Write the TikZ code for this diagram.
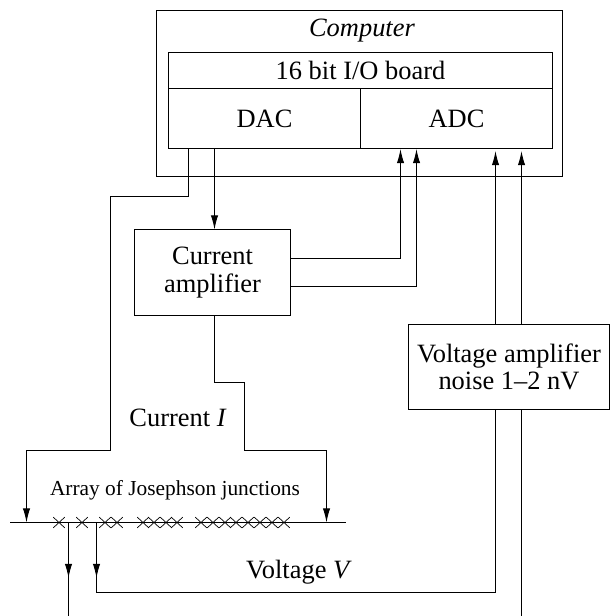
\documentclass[tikz,border=0pt]{standalone}
\usepackage{fontspec}
\setmainfont{Liberation Serif}
\usetikzlibrary{arrows.meta,shapes.misc}
\tikzset{
  box/.style   = {rectangle, draw, line width=0.75pt, outer sep=0, inner sep=0, align=center},
  et/.style    = {font=\fontsize{18.8}{19.5}\selectfont, align=center},
  etsm/.style  = {font=\fontsize{15.2}{16}\selectfont},
  wire/.style  = {line width=0.75pt},
  sig/.style   = {line width=0.75pt, -{Latex[length=10pt,width=5.2pt]}},
  jj/.style    = {cross out, draw, line width=0.5pt, minimum width=2.7mm, minimum height=2.5mm, inner sep=0}
}

\begin{document}
\begin{tikzpicture}[x=0.025cm,y=-0.025cm]
  \useasboundingbox (0,0) rectangle (611,616);

  % computer and I/O board
  \node[box, minimum width=101.5mm, minimum height=41.5mm] (comp) at (359.5,93.5){};
  \node[et] (compL) at (362,31) {\textit{Computer}};
  \node[box, et, minimum width=96mm, minimum height=9mm] (board) at (360.5,70.5) {16 bit I/O board};
  \node[box, et, minimum width=48mm, minimum height=15mm, anchor=north west] (dac) at (168.5,88.5) {DAC};
  \node[box, et, minimum width=48mm, minimum height=15mm, anchor=north east] (adc) at (552.5,88.5) {ADC};

  % amplifiers
  \node[box, et, minimum width=39mm, minimum height=21.5mm] (camp) at (212.5,272.5) {Current\\amplifier};
  \node[box, et, minimum width=50.25mm, minimum height=21.25mm] (vamp) at (509,367) {Voltage amplifier\\noise 1--2 nV};

  % array line
  \coordinate (arrL) at (10,522.5);
  \coordinate (arrR) at (346,522.5);
  \draw[wire] (arrL) -- (arrR);
  \foreach \i/\x in {1/59,2/82,3/105,4/117,5/143,6/154,7/166,8/177,9/201,10/213,11/225,12/236,13/248,14/260,15/272,16/284}
    \node[jj] (jj\i) at (\x,522.5){};
  \node[etsm] (arrT) at (175,490) {Array of Josephson junctions};

  \node[et] (curL) at (178,418) {Current \textit{I}};
  \node[et] (volL) at (299,572) {Voltage \textit{V}};

  % end points on the boxes
  \coordinate (dacA) at (188.5,148.5);
  \coordinate (dacB) at (214.5,148.5);
  \coordinate (campT) at (214.5,229.5);
  \coordinate (campB) at (214.5,315.5);
  \coordinate (campA) at (290.5,258.5);
  \coordinate (campC) at (290.5,286.5);
  \coordinate (adcA) at (400.5,149);
  \coordinate (adcB) at (416.5,149);
  \coordinate (adcC) at (495.5,151);
  \coordinate (adcD) at (521.5,151);
  \coordinate (vampA) at (495.5,324.5);
  \coordinate (vampB) at (521.5,324.5);
  \coordinate (vampC) at (495.5,409.5);
  \coordinate (vampD) at (521.5,409.5);
  \coordinate (leadL) at (26.5,522.5);
  \coordinate (leadR) at (326.5,522.5);
  \coordinate (tapA) at (68.5,522.5);
  \coordinate (tapB) at (96.5,522.5);
  \coordinate (tipA) at (68.5,578);
  \coordinate (tipB) at (96.5,578);
  \coordinate (endA) at (68.5,616);
  \coordinate (endB) at (521.5,616);

  % current side
  \draw[sig] (dacA) -- ++(0,48) -| (110.5,450.5) -| (leadL);
  \draw[sig] (dacB) -- (campT);
  \draw[sig] (campB) |- (244.5,382.5) |- (326.5,450.5) -- (leadR);
  \draw[sig] (campA) -| (adcA);
  \draw[sig] (campC) -| (adcB);

  % voltage side
  \draw[sig] (vampA) -- (adcC);
  \draw[sig] (vampB) -- (adcD);
  \draw[wire] (tapA) -- (endA);
  \draw[sig] (tapA) -- (tipA);
  \draw[wire] (tapB) |- (495.5,592.5) -- (vampC);
  \draw[sig] (tapB) -- (tipB);
  \draw[wire] (vampD) -- (endB);
\end{tikzpicture}
\end{document}
